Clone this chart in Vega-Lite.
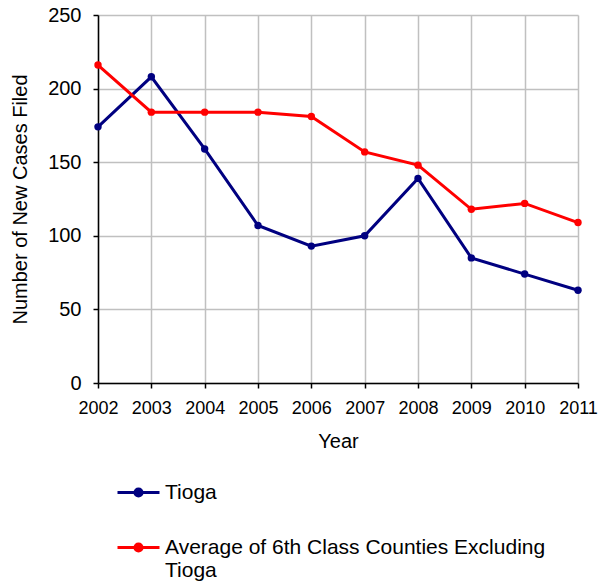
{
  "$schema": "https://vega.github.io/schema/vega-lite/v6.json",
  "width": 480,
  "height": 368,
  "autosize": "none",
  "padding": {"left": 98, "top": 15, "right": 20, "bottom": 203},
  "background": "white",
  "config": {
    "font": "Liberation Sans",
    "view": {"stroke": null},
    "axis": {
      "gridColor": "#c0c0c0",
      "gridWidth": 1.5,
      "gridOpacity": 1,
      "domainColor": "#000000",
      "domainWidth": 1.5,
      "tickColor": "#000000",
      "tickSize": 5,
      "tickWidth": 1.5,
      "labelColor": "#000000",
      "titleColor": "#000000",
      "titleFontWeight": "normal"
    }
  },
  "data": {
    "values": [
      {"year": 2002, "series": "Tioga", "cases": 174},
      {"year": 2003, "series": "Tioga", "cases": 208},
      {"year": 2004, "series": "Tioga", "cases": 159},
      {"year": 2005, "series": "Tioga", "cases": 107},
      {"year": 2006, "series": "Tioga", "cases": 93},
      {"year": 2007, "series": "Tioga", "cases": 100},
      {"year": 2008, "series": "Tioga", "cases": 139},
      {"year": 2009, "series": "Tioga", "cases": 85},
      {"year": 2010, "series": "Tioga", "cases": 74},
      {"year": 2011, "series": "Tioga", "cases": 63},
      {"year": 2002, "series": "Average of 6th Class Counties Excluding Tioga", "cases": 216},
      {"year": 2003, "series": "Average of 6th Class Counties Excluding Tioga", "cases": 184},
      {"year": 2004, "series": "Average of 6th Class Counties Excluding Tioga", "cases": 184},
      {"year": 2005, "series": "Average of 6th Class Counties Excluding Tioga", "cases": 184},
      {"year": 2006, "series": "Average of 6th Class Counties Excluding Tioga", "cases": 181},
      {"year": 2007, "series": "Average of 6th Class Counties Excluding Tioga", "cases": 157},
      {"year": 2008, "series": "Average of 6th Class Counties Excluding Tioga", "cases": 148},
      {"year": 2009, "series": "Average of 6th Class Counties Excluding Tioga", "cases": 118},
      {"year": 2010, "series": "Average of 6th Class Counties Excluding Tioga", "cases": 122},
      {"year": 2011, "series": "Average of 6th Class Counties Excluding Tioga", "cases": 109}
    ]
  },
  "encoding": {
    "x": {
      "field": "year",
      "type": "quantitative",
      "scale": {"domain": [2002, 2011], "nice": false, "zero": false},
      "axis": {
        "title": "Year",
        "values": [2002, 2003, 2004, 2005, 2006, 2007, 2008, 2009, 2010, 2011],
        "format": "d",
        "labelFontSize": 18,
        "labelPadding": 11,
        "labelOverlap": false,
        "labelFlush": false,
        "titleFontSize": 20,
        "titlePadding": 14
      }
    },
    "y": {
      "field": "cases",
      "type": "quantitative",
      "scale": {"domain": [0, 250], "nice": false},
      "axis": {
        "title": "Number of New Cases Filed",
        "values": [0, 50, 100, 150, 200, 250],
        "labelFontSize": 20,
        "labelPadding": 12,
        "titleFontSize": 20,
        "titlePadding": 17
      }
    },
    "color": {
      "field": "series",
      "type": "nominal",
      "sort": ["Tioga", "Average of 6th Class Counties Excluding Tioga"],
      "scale": {
        "domain": ["Tioga", "Average of 6th Class Counties Excluding Tioga"],
        "range": ["#000080", "#ff0000"]
      },
      "legend": {
        "title": null,
        "orient": "none",
        "legendX": 18,
        "legendY": 455,
        "direction": "vertical",
        "symbolType": "M-1,0H1M-0.17,0A0.17,0.17 0 1,1 0.17,0A0.17,0.17 0 1,1 -0.17,0",
        "symbolSize": 1764,
        "symbolStrokeWidth": 3,
        "labelFontSize": 21,
        "labelLimit": 600,
        "labelOffset": 4,
        "rowPadding": 22,
        "labelExpr": "datum.label == 'Tioga' ? 'Tioga' : ['Average of 6th Class Counties Excluding', 'Tioga']"
      }
    }
  },
  "layer": [
    {"mark": {"type": "line", "strokeWidth": 3}},
    {"mark": {"type": "point", "shape": "circle", "filled": true, "size": 55, "opacity": 1}}
  ]
}
